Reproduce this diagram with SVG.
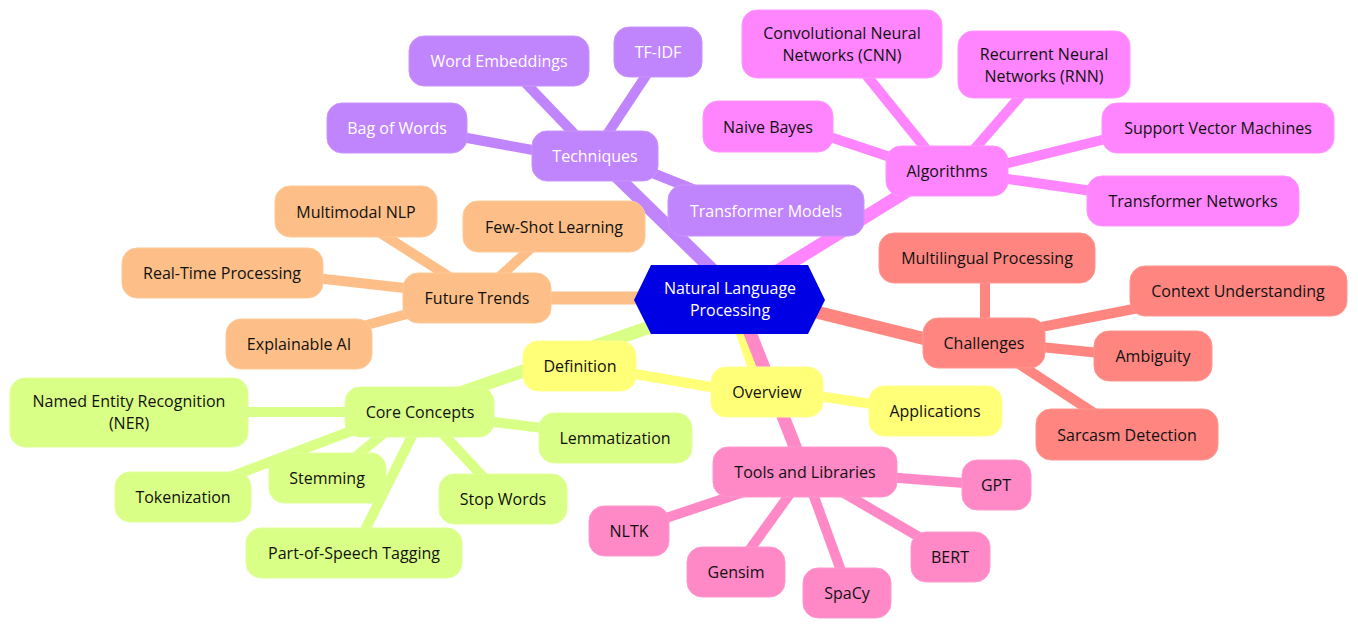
<svg xmlns="http://www.w3.org/2000/svg" width="1358" height="630" viewBox="0 0 1358 630">
<style>
text{font-family:"Open Sans","Liberation Sans",sans-serif;font-size:16px;text-anchor:middle;dominant-baseline:central;fill:#111}
.w{fill:#fff}
line{stroke-linecap:butt}
.c line{stroke-width:10}
.c line.m{stroke-width:13}
.pu{stroke:#C084FC}.ma{stroke:#FF85FF}.or{stroke:#FDBF87}.sa{stroke:#FF8680}.ye{stroke:#FFFF78}.gr{stroke:#D9FF86}.pk{stroke:#FF88C6}
rect{rx:15;ry:15}
.Rpu{fill:#C084FC;stroke:#C994FC}.Rma{fill:#FF85FF;stroke:#FF95FF}.Ror{fill:#FDBF87;stroke:#FEC998}.Rsa{fill:#FF8680;stroke:#FF9690}.Rye{fill:#FFFF78;stroke:#FFFF90}.Rgr{fill:#D9FF86;stroke:#E0FF98}.Rpk{fill:#FF88C6;stroke:#FF98CE}
</style>
<g id="connectors" class="c">
<line class="pu" x1="515" y1="72" x2="585" y2="145"/>
<line class="pu" x1="655" y1="62" x2="600" y2="145"/>
<line class="pu" x1="440" y1="133" x2="560" y2="155"/>
<line class="pu" x1="620" y1="160" x2="720" y2="200"/>
<line class="pu m" x1="605" y1="165" x2="725" y2="282"/>
<line class="ma" x1="850" y1="55" x2="935" y2="160"/>
<line class="ma" x1="1030" y1="85" x2="965" y2="160"/>
<line class="ma" x1="800" y1="127" x2="920" y2="167"/>
<line class="ma" x1="980" y1="170" x2="1130" y2="133"/>
<line class="ma" x1="980" y1="175" x2="1120" y2="195"/>
<line class="ma m" x1="925" y1="180" x2="755" y2="285"/>
<line class="or" x1="360" y1="220" x2="470" y2="290"/>
<line class="or" x1="540" y1="240" x2="485" y2="290"/>
<line class="or" x1="280" y1="274" x2="440" y2="292"/>
<line class="or" x1="330" y1="335" x2="440" y2="305"/>
<line class="or m" x1="520" y1="298" x2="660" y2="298"/>
<line class="sa" x1="985" y1="270" x2="985" y2="330"/>
<line class="sa" x1="1000" y1="335" x2="1180" y2="300"/>
<line class="sa" x1="1000" y1="343" x2="1120" y2="355"/>
<line class="sa" x1="990" y1="345" x2="1120" y2="430"/>
<line class="sa m" x1="800" y1="308" x2="950" y2="345"/>
<line class="gr" x1="200" y1="412" x2="400" y2="412"/>
<line class="gr" x1="460" y1="418" x2="600" y2="435"/>
<line class="gr" x1="380" y1="420" x2="183" y2="495"/>
<line class="gr" x1="400" y1="420" x2="330" y2="478"/>
<line class="gr" x1="420" y1="420" x2="355" y2="550"/>
<line class="gr" x1="430" y1="420" x2="500" y2="495"/>
<line class="gr m" x1="440" y1="400" x2="670" y2="320"/>
<line class="ye" x1="600" y1="368" x2="740" y2="392"/>
<line class="ye" x1="790" y1="392" x2="900" y2="408"/>
<line class="ye m" x1="738" y1="320" x2="762" y2="390"/>
<line class="pk" x1="860" y1="475" x2="990" y2="485"/>
<line class="pk" x1="780" y1="480" x2="630" y2="530"/>
<line class="pk" x1="800" y1="480" x2="735" y2="570"/>
<line class="pk" x1="808" y1="480" x2="848" y2="590"/>
<line class="pk" x1="830" y1="485" x2="950" y2="555"/>
<line class="pk m" x1="745" y1="320" x2="805" y2="472"/>
</g>
<g id="center"><polygon points="634,300 651,265 808,265 825,300 808,334 651,334" fill="#0000E5"/><text class="w" x="730" y="288">Natural Language</text><text class="w" x="730" y="310">Processing</text></g>
<g id="techniques"><rect class="Rpu" x="532" y="131" width="126" height="50"/><text class="w" x="595" y="156">Techniques</text></g>
<g id="word-embeddings"><rect class="Rpu" x="409" y="36" width="180" height="50"/><text class="w" x="499" y="61">Word Embeddings</text></g>
<g id="tf-idf"><rect class="Rpu" x="614" y="27" width="88" height="50"/><text class="w" x="658" y="52">TF-IDF</text></g>
<g id="bag-of-words"><rect class="Rpu" x="327" y="103" width="140" height="50"/><text class="w" x="397" y="128">Bag of Words</text></g>
<g id="transformer-models"><rect class="Rpu" x="668" y="185" width="196" height="51"/><text class="w" x="766" y="211">Transformer Models</text></g>
<g id="algorithms"><rect class="Rma" x="886" y="146" width="122" height="50"/><text x="947" y="171">Algorithms</text></g>
<g id="cnn"><rect class="Rma" x="742" y="10" width="200" height="68"/><text x="842" y="33">Convolutional Neural</text><text x="842" y="55">Networks (CNN)</text></g>
<g id="rnn"><rect class="Rma" x="958" y="31" width="172" height="67"/><text x="1044" y="53.5">Recurrent Neural</text><text x="1044" y="75.5">Networks (RNN)</text></g>
<g id="naive-bayes"><rect class="Rma" x="703" y="101" width="130" height="51"/><text x="768" y="127">Naive Bayes</text></g>
<g id="svm"><rect class="Rma" x="1102" y="103" width="232" height="50"/><text x="1218" y="128">Support Vector Machines</text></g>
<g id="transformer-networks"><rect class="Rma" x="1087" y="176" width="212" height="50"/><text x="1193" y="201">Transformer Networks</text></g>
<g id="future-trends"><rect class="Ror" x="403" y="273" width="148" height="50"/><text x="477" y="298">Future Trends</text></g>
<g id="multimodal"><rect class="Ror" x="275" y="186" width="162" height="51"/><text x="356" y="212">Multimodal NLP</text></g>
<g id="few-shot"><rect class="Ror" x="463" y="201" width="182" height="51"/><text x="554" y="227">Few-Shot Learning</text></g>
<g id="real-time"><rect class="Ror" x="122" y="248" width="201" height="50"/><text x="222" y="273">Real-Time Processing</text></g>
<g id="explainable"><rect class="Ror" x="226" y="319" width="146" height="50"/><text x="299" y="344">Explainable AI</text></g>
<g id="challenges"><rect class="Rsa" x="923" y="318" width="122" height="50"/><text x="984" y="343">Challenges</text></g>
<g id="multilingual"><rect class="Rsa" x="879" y="233" width="216" height="50"/><text x="987" y="258">Multilingual Processing</text></g>
<g id="context"><rect class="Rsa" x="1130" y="266" width="217" height="50"/><text x="1238" y="291">Context Understanding</text></g>
<g id="ambiguity"><rect class="Rsa" x="1094" y="331" width="118" height="50"/><text x="1153" y="356">Ambiguity</text></g>
<g id="sarcasm"><rect class="Rsa" x="1036" y="409" width="182" height="51"/><text x="1127" y="435">Sarcasm Detection</text></g>
<g id="overview"><rect class="Rye" x="711" y="367" width="112" height="50"/><text x="767" y="392">Overview</text></g>
<g id="definition"><rect class="Rye" x="523" y="341" width="113" height="50"/><text x="580" y="366">Definition</text></g>
<g id="applications"><rect class="Rye" x="869" y="386" width="133" height="50"/><text x="935" y="411">Applications</text></g>
<g id="core-concepts"><rect class="Rgr" x="345" y="387" width="149" height="50"/><text x="420" y="412">Core Concepts</text></g>
<g id="ner"><rect class="Rgr" x="10" y="378" width="238" height="69"/><text x="129" y="401">Named Entity Recognition</text><text x="129" y="423">(NER)</text></g>
<g id="lemmatization"><rect class="Rgr" x="539" y="413" width="153" height="50"/><text x="615" y="438">Lemmatization</text></g>
<g id="tokenization"><rect class="Rgr" x="115" y="472" width="136" height="50"/><text x="183" y="497">Tokenization</text></g>
<g id="stemming"><rect class="Rgr" x="269" y="453" width="117" height="50"/><text x="327" y="478">Stemming</text></g>
<g id="stop-words"><rect class="Rgr" x="439" y="474" width="128" height="50"/><text x="503" y="499">Stop Words</text></g>
<g id="pos-tagging"><rect class="Rgr" x="246" y="528" width="216" height="50"/><text x="354" y="553">Part-of-Speech Tagging</text></g>
<g id="tools"><rect class="Rpk" x="713" y="447" width="184" height="50"/><text x="805" y="472">Tools and Libraries</text></g>
<g id="gpt"><rect class="Rpk" x="962" y="460" width="69" height="50"/><text x="996" y="485">GPT</text></g>
<g id="nltk"><rect class="Rpk" x="589" y="506" width="80" height="50"/><text x="629" y="531">NLTK</text></g>
<g id="gensim"><rect class="Rpk" x="687" y="547" width="98" height="50"/><text x="736" y="572">Gensim</text></g>
<g id="spacy"><rect class="Rpk" x="803" y="568" width="88" height="50"/><text x="847" y="593">SpaCy</text></g>
<g id="bert"><rect class="Rpk" x="911" y="532" width="79" height="50"/><text x="950" y="557">BERT</text></g>
</svg>
